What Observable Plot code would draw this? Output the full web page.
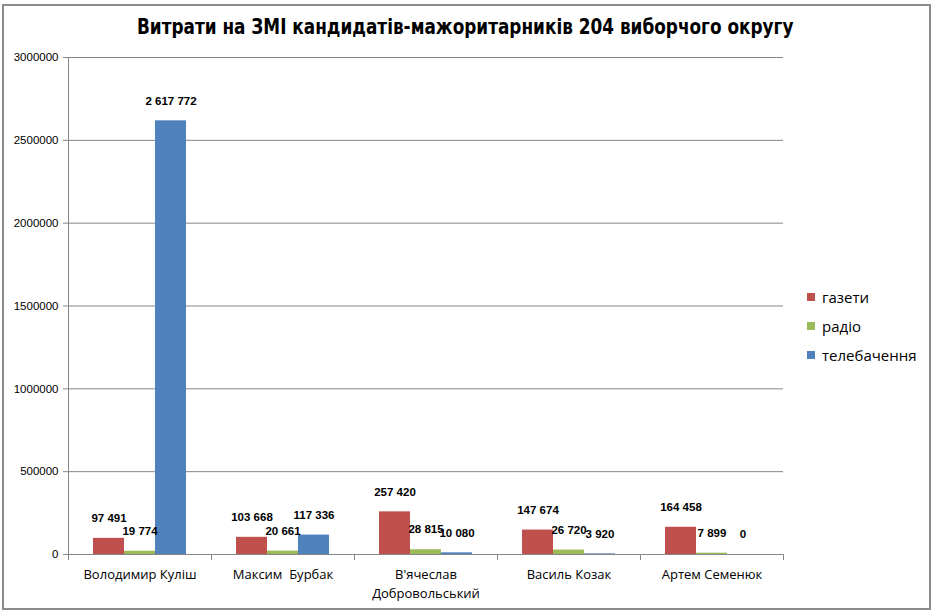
<!DOCTYPE html>
<html>
<head>
<meta charset="utf-8">
<script src="https://cdn.jsdelivr.net/npm/d3@7"></script>
<script src="https://cdn.jsdelivr.net/npm/@observablehq/plot@0.6"></script>
<style>
  html, body { margin: 0; padding: 0; background: #fff; }
  #wrap { position: relative; width: 934px; height: 613px; overflow: hidden; background: #fff; }
  #border { position: absolute; left: 2px; top: 4px; width: 925px; height: 602px; border: 2px solid #8c8c8c; box-sizing: content-box; }
  #title { position: absolute; left: 0; width: 930px; top: 15px; text-align: center; }
  #title span { display: inline-block; transform: scaleX(0.894); transform-origin: center;
    font-family: "DejaVu Sans", sans-serif; font-stretch: condensed; font-weight: bold; font-size: 21px; color: #000; white-space: nowrap; }
  #chart { position: absolute; left: 0; top: 0; }
  .leg { position: absolute; left: 807px; font-family: "Open Sans", sans-serif; font-size: 15px; color: #000; height: 20px; line-height: 20px; }
  .leg span.sw { position: absolute; left: 0; top: 6px; width: 8px; height: 8px; }
  .leg span.tx { position: absolute; left: 15px; top: 0; white-space: nowrap; }
</style>
</head>
<body>
<div id="wrap">
  <div id="border"></div>
  <div id="chart"></div>
  <div id="title"><span>Витрати на ЗМІ кандидатів-мажоритарників 204 виборчого округу</span></div>
  <div id="legend"></div>
</div>
<script>
const candidates = ["Володимир Куліш", "Максим Бурбак", "В'ячеслав Добровольський", "Василь Козак", "Артем Семенюк"];
const tickLabels = ["Володимир Куліш", "Максим  Бурбак", "В'ячеслав\nДобровольський", "Василь Козак", "Артем Семенюк"];
const series = ["газети", "радіо", "телебачення"];
const gazety = [97491, 103668, 257420, 147674, 164458];
const radio = [19774, 20661, 28815, 26720, 7899];
const tv = [2617772, 117336, 10080, 3920, 0];
const colors = ["#C0504D", "#9BBB59", "#4F81BD"];
const yTicks = [0, 500000, 1000000, 1500000, 2000000, 2500000, 3000000];

const valuesBySeries = [gazety, radio, tv];
const rows = [];
candidates.forEach((c, i) => {
  series.forEach((s, j) => rows.push({candidate: c, series: s, value: valuesBySeries[j][i]}));
});
const fmt = v => d3.format(",")(v).replace(/,/g, " ");
const gridColor = "#868686";

const chart = Plot.plot({
  width: 934,
  height: 613,
  marginTop: 57,
  marginBottom: 59,
  marginLeft: 66,
  marginRight: 149,
  style: {fontFamily: "'Liberation Sans', sans-serif", color: "#000", background: "transparent", overflow: "visible"},
  fx: {domain: candidates, padding: 0, label: null},
  x: {domain: series, paddingInner: 0, paddingOuter: 0.75, axis: null},
  y: {domain: [0, 3000000], label: null},
  color: {domain: series, range: colors},
  marks: [
    Plot.gridY(yTicks, {stroke: gridColor, strokeOpacity: 1}),
    Plot.axisY(yTicks, {anchor: "left", tickFormat: d => String(d), tickSize: 5, tickPadding: 5, fontSize: 11.5, stroke: gridColor, label: null}),
    Plot.frame({anchor: "left", facetAnchor: "left", stroke: gridColor}),
    Plot.frame({anchor: "left", insetTop: 497, insetBottom: -5, stroke: gridColor}),
    Plot.frame({anchor: "right", facetAnchor: "right", insetTop: 497, insetBottom: -5, stroke: gridColor}),
    Plot.barY(rows, {fx: "candidate", x: "series", y: "value", fill: "series"}),
    Plot.ruleY([0], {stroke: gridColor}),
    Plot.text(rows, {fx: "candidate", x: "series", y: "value", text: d => fmt(d.value), dy: -20, fontWeight: "bold", fontSize: 11.5, fill: "#000"}),
    Plot.axisFx({anchor: "bottom", tickSize: 0, tickPadding: 11, fontSize: 13, fontFamily: "'Open Sans', sans-serif", lineHeight: 1.45,
      tickFormat: d => tickLabels[candidates.indexOf(d)], label: null})
  ]
});
document.getElementById("chart").appendChild(chart);

const legend = document.getElementById("legend");
const legendTops = [287, 316, 345];
series.forEach((s, j) => {
  const row = document.createElement("div");
  row.className = "leg";
  row.style.top = legendTops[j] + "px";
  row.innerHTML = `<span class="sw" style="background:${colors[j]}"></span><span class="tx">${s}</span>`;
  legend.appendChild(row);
});
</script>
</body>
</html>
